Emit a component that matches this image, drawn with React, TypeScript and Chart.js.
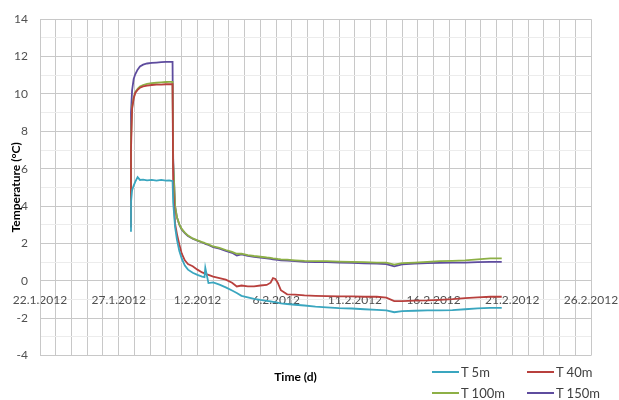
import React, { useEffect, useRef } from "react";
import { Chart, registerables } from "chart.js";

Chart.register(...registerables);

// days after 22.1.2012
const days = [
  5.72, 5.78, 5.85, 5.95, 6.05, 6.2, 6.35, 6.55, 6.8, 7.1, 7.4, 7.7, 8.0, 8.2, 8.42,
  8.46, 8.58, 8.7, 8.85, 9.0, 9.2, 9.4, 9.7, 10.0, 10.3, 10.45, 10.5, 10.7, 11.0, 11.4,
  11.8, 12.2, 12.5, 12.8, 13.2, 13.6, 14.0, 14.4, 14.65, 14.8, 14.95, 15.1, 15.3, 15.7,
  16.2, 16.8, 17.5, 18.2, 19.0, 19.8, 20.6, 21.4, 22.0, 22.5, 23.0, 23.8, 24.6, 25.4,
  26.2, 27.0, 27.8, 28.6, 29.33,
];

const t5m = [
  2.67, 4.2, 4.85, 5.1, 5.3, 5.55, 5.4, 5.42, 5.38, 5.4, 5.36, 5.4, 5.36, 5.38, 5.34,
  4.2, 2.88, 2.2, 1.6, 1.2, 0.82, 0.6, 0.43, 0.32, 0.23, 0.2, 0.7, -0.12, -0.08, -0.2,
  -0.35, -0.52, -0.65, -0.8, -0.88, -0.96, -1.02, -1.07, -1.1, -1.12, -1.14, -1.17, -1.2, -1.24,
  -1.28, -1.32, -1.38, -1.42, -1.46, -1.48, -1.52, -1.55, -1.58, -1.68, -1.62, -1.6, -1.58, -1.58,
  -1.57, -1.52, -1.47, -1.45, -1.45,
];

const t40m = [
  2.9, 7.0, 9.2, 9.75, 10.05, 10.22, 10.33, 10.4, 10.45, 10.48, 10.5, 10.5, 10.52, 10.52, 10.52,
  5.0, 3.06, 2.5, 1.95, 1.47, 1.1, 0.9, 0.78, 0.6, 0.45, 0.4, 0.38, 0.32, 0.23, 0.15,
  0.06, -0.1, -0.3, -0.25, -0.3, -0.3, -0.25, -0.22, -0.1, 0.15, 0.1, -0.1, -0.5, -0.72,
  -0.74, -0.78, -0.8, -0.82, -0.83, -0.83, -0.85, -0.85, -0.9, -1.08, -1.08, -1.06, -1.05, -1.02,
  -0.98, -0.92, -0.88, -0.85, -0.85,
];

const t100m = [
  3.2, 7.5, 9.3, 9.8, 10.1, 10.28, 10.4, 10.48, 10.54, 10.58, 10.6, 10.62, 10.64, 10.65, 10.65,
  6.3, 4.0, 3.4, 3.02, 2.78, 2.58, 2.42, 2.27, 2.17, 2.07, 2.03, 2.01, 1.95, 1.84, 1.76,
  1.65, 1.55, 1.45, 1.46, 1.38, 1.33, 1.29, 1.25, 1.23, 1.2, 1.19, 1.17, 1.15, 1.13,
  1.1, 1.07, 1.05, 1.05, 1.03, 1.02, 1.0, 0.98, 0.97, 0.87, 0.95, 0.98, 1.02, 1.05,
  1.07, 1.1, 1.15, 1.2, 1.2,
];

const t150m = [
  3.5, 9.0, 10.2, 10.8, 11.05, 11.3, 11.47, 11.57, 11.63, 11.66, 11.68, 11.7, 11.72, 11.72, 11.72,
  6.5, 4.0, 3.4, 3.0, 2.75, 2.55, 2.4, 2.25, 2.15, 2.05, 2.0, 1.98, 1.92, 1.8, 1.72,
  1.6, 1.5, 1.36, 1.42, 1.33, 1.28, 1.24, 1.2, 1.18, 1.15, 1.14, 1.12, 1.1, 1.08,
  1.05, 1.02, 1.0, 1.0, 0.98, 0.96, 0.94, 0.92, 0.9, 0.78, 0.88, 0.92, 0.95, 0.96,
  0.97, 0.98, 1.0, 1.02, 1.02,
];

const seriesNames = ["T 5m", "T 40m", "T 100m", "T 150m"];
const seriesColors = ["#3aa6bf", "#b8403d", "#8db046", "#5e4c9e"];
const xTickLabels = ["22.1.2012", "27.1.2012", "1.2.2012", "6.2.2012", "11.2.2012", "16.2.2012", "21.2.2012", "26.2.2012"];

const FONT = "Lato, 'Open Sans', sans-serif";

export default function App() {
  const ref = useRef<HTMLCanvasElement | null>(null);

  useEffect(() => {
    if (!ref.current) return;
    const values = [t5m, t40m, t100m, t150m];
    const chart = new Chart(ref.current, {
      type: "line",
      data: {
        datasets: values.map((vals, i) => ({
          label: seriesNames[i],
          data: days.map((d, j) => ({ x: d, y: vals[j] })),
          borderColor: seriesColors[i],
          backgroundColor: seriesColors[i],
          borderWidth: 1.8,
          pointRadius: 0,
          tension: 0,
          fill: false,
        })),
      },
      options: {
        animation: false,
        responsive: true,
        maintainAspectRatio: false,
        layout: { padding: { top: 17, right: 28, left: 0, bottom: 0 } },
        plugins: {
          legend: { display: false },
          tooltip: { enabled: false },
          title: {
            display: true,
            position: "bottom",
            text: "Time (d)",
            color: "#000",
            font: { family: FONT, size: 12, weight: "bold" },
            padding: { top: 14, bottom: 16 },
          },
        },
        scales: {
          x: {
            type: "linear",
            position: { y: 0 } as any,
            min: 0,
            max: 35,
            afterFit: (s: any) => {
              s.paddingLeft = 0;
              s.paddingRight = 0;
            },
            grid: { color: "#c8c8c8", drawTicks: false, lineWidth: 1 },
            border: { color: "#c8c8c8" },
            ticks: {
              stepSize: 1,
              autoSkip: false,
              maxRotation: 0,
              padding: 12,
              color: "#505050",
              font: { family: FONT, size: 12 },
              callback: (v: any) => {
                const n = Number(v);
                return n % 5 === 0 ? xTickLabels[n / 5] : "";
              },
            },
          },
          y: {
            min: -4,
            max: 14,
            afterFit: (s: any) => {
              s.width = 40;
            },
            grid: {
              drawTicks: false,
              color: (ctx: any) => (ctx.tick && Math.abs(ctx.tick.value) % 2 === 1 ? "#ececec" : "#c8c8c8"),
            },
            border: { color: "#c8c8c8" },
            title: {
              display: true,
              text: "Temperature (°C)",
              color: "#000",
              font: { family: FONT, size: 12, weight: "bold" },
              padding: { top: 9, bottom: 0 },
            },
            ticks: {
              stepSize: 1,
              autoSkip: false,
              padding: 12,
              color: "#505050",
              font: { family: FONT, size: 12 },
              callback: (v: any) => (Math.abs(Number(v)) % 2 === 0 ? String(v) : ""),
            },
          },
        },
      },
    });
    return () => chart.destroy();
  }, []);

  const legendPos = [
    { left: 432, top: 372 },
    { left: 527, top: 372 },
    { left: 432, top: 393 },
    { left: 527, top: 393 },
  ];

  return (
    <div style={{ position: "fixed", left: 0, top: 0, width: 619, height: 400, background: "#fff" }}>
      <canvas ref={ref} />
      {seriesNames.map((name, i) => (
        <div
          key={name}
          style={{
            position: "absolute",
            left: legendPos[i].left,
            top: legendPos[i].top - 8,
            height: 16,
            display: "flex",
            alignItems: "center",
            fontFamily: FONT,
            fontSize: 13,
            color: "#404040",
            whiteSpace: "nowrap",
          }}
        >
          <span style={{ display: "inline-block", width: 27, height: 2, background: seriesColors[i], marginRight: 2 }} />
          <span>{name}</span>
        </div>
      ))}
    </div>
  );
}
